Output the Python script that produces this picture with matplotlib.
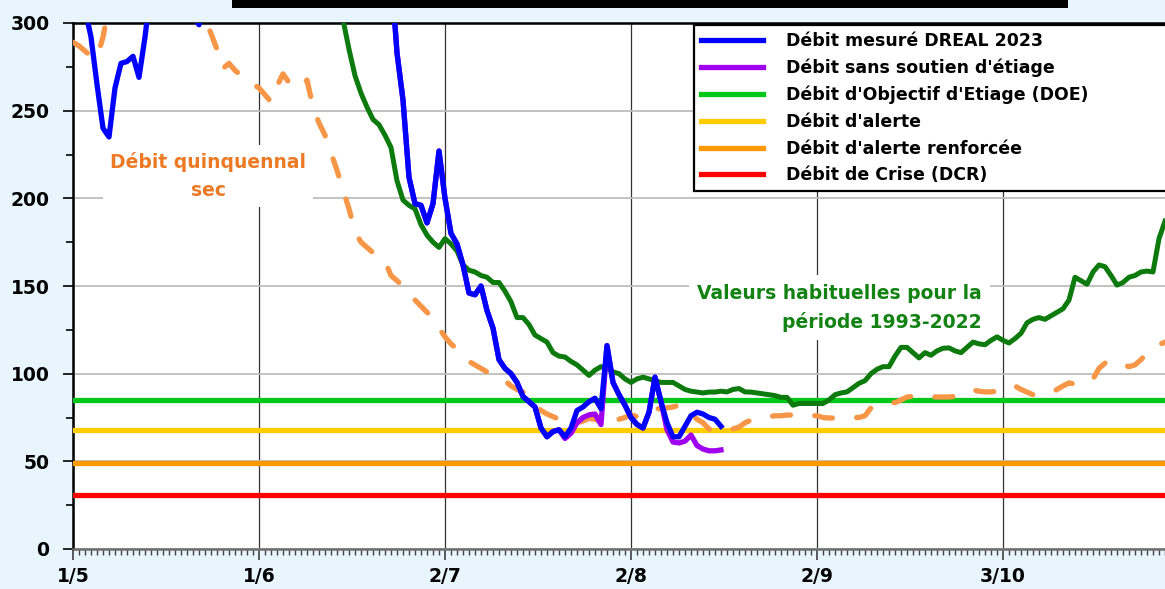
import numpy as np
from matplotlib import pyplot as plt
from matplotlib.patches import Rectangle
from matplotlib.lines import Line2D

# days counted from 1 May 2023
tick_days = [0, 31, 62, 93, 124, 155]
tick_labels = ['1/5', '1/6', '2/7', '2/8', '2/9', '3/10']

# Débit mesuré DREAL 2023 (days 0..108)
dreal_2023 = [360, 340, 308, 292, 265, 240, 235, 263, 277, 278,
              281, 269, 292, 320, 345, 340, 325, 318, 315, 310,
              305, 299, 310, 330, 360, 400, 420, 410, 390, 380,
              370, 365, 360, 350, 345, 340, 350, 380, 420, 450,
              430, 400, 380, 360, 350, 340, 335, 330, 340, 360,
              380, 400, 370, 330, 283, 256, 212, 197, 196, 186,
              197, 227, 200, 180, 174, 162, 146, 145, 150, 136,
              126, 108, 103, 100, 95, 87, 84, 81, 69, 64,
              67, 68, 64, 69, 79, 81, 84, 86, 80, 116,
              95, 88, 82, 75, 71, 69, 78, 98, 84, 72,
              64, 64, 70, 76, 78, 77, 75, 74, 70]

# Débit sans soutien d'étiage (days 53..108)
sans_soutien_start = 53
sans_soutien = [330, 283, 256, 212, 197, 196, 186,
                197, 227, 200, 180, 174, 162, 146, 145, 150, 136,
                126, 108, 103, 100, 95, 87, 84, 81, 69, 64,
                67, 68, 63, 66, 72, 75, 76.5, 77, 71, 116,
                95, 88, 82, 75, 71, 69, 78, 98, 84, 68,
                61, 60.5, 61.5, 65, 59, 57, 56, 56, 56.5]

# Valeurs habituelles 1993-2022 (days 44..182)
habituel_start = 44
habituel = [320, 302, 285, 270, 260, 252, 245, 242, 236, 229,
            210, 199, 196, 194, 185, 179, 175, 172, 177, 174,
            170, 162, 159, 158, 156, 155, 152, 152, 147, 141,
            132, 132, 128, 122, 120, 118, 112, 110, 109.5, 107,
            105, 102, 99, 102, 104, 103, 101, 100, 97, 95,
            97, 98, 97, 96, 95, 95, 95, 93, 91, 90,
            89.5, 89, 89.5, 89.5, 90, 89.6, 91, 91.5, 89.6, 89.5,
            89, 88.5, 88, 87.5, 86.5, 86.5, 82, 83, 83, 83,
            83, 83, 85, 88, 89, 89.6, 92, 94.5, 96, 100,
            102.5, 104, 104, 110, 115, 115, 112, 109, 112, 110.5,
            113, 114.5, 114.7, 113, 112, 115, 118, 117, 116.5, 119,
            121, 119, 117.5, 120, 123, 129, 131, 132, 131, 133,
            135, 137, 142, 155, 153, 151, 158, 162, 161, 156,
            150.5, 152, 155, 156, 158, 158.5, 158, 177, 187]

# Débit quinquennal sec (days 0..182)
quinquennal = [289, 287, 284, 281, 280, 292, 310, 315, 320, 322,
               325, 327, 328, 326, 324, 322, 320, 318, 315, 312,
               308, 305, 302, 294, 285, 274, 277, 273, 270, 266.5,
               265, 263, 259, 255, 264, 271, 266, 263, 263.5, 267.5,
               252, 243, 236, 226, 216, 205, 194, 181, 175, 172,
               169, 166, 164, 156, 153, 150, 146, 142, 138.5, 135,
               132, 126, 121, 117, 114, 110, 107, 105, 103, 101,
               99.5, 98, 96, 93, 91, 89.5, 86, 82, 79, 77,
               75.5, 74, 72.5, 72, 72, 73, 74.5, 74, 72, 72,
               73, 74, 75, 76.5, 75.5, 76, 78, 80, 80, 80.5,
               81, 82, 80, 77, 74, 72, 68.5, 67, 67, 67.5,
               68.5, 69.5, 72, 73.5, 74, 75, 75.5, 76, 76, 76.4,
               76.4, 76.4, 76, 76, 76, 75, 74.7, 74.7, 75, 75,
               75, 75, 76, 80.5, 82, 82.5, 83, 83.5, 85, 86.7,
               87, 86.7, 86.7, 86.7, 86.7, 86.7, 86.7, 87, 88, 89.5,
               90.7, 90, 89.6, 89.6, 90, 91.5, 93, 93, 91, 89.5,
               88, 88, 88.5, 89, 91, 93, 94.7, 94, 94, 95,
               97, 103, 106, 107.5, 107, 105, 104, 105, 108, 111.8,
               114, 116.5, 118]

# thresholds
seuil_names = ["Débit d'Objectif d'Etiage (DOE)", "Débit d'alerte",
               "Débit d'alerte renforcée", "Débit de Crise (DCR)"]
seuil_values = [85, 68, 49, 31]
seuil_colors = ['#00C81A', '#FFCC00', '#FF9900', '#FF0000']

plt.rcParams['font.family'] = ['DejaVu Sans']

fig = plt.figure(figsize=(11.65, 5.89), dpi=100)
fig.patch.set_facecolor('#E9F5FD')
ax = fig.add_axes([73 / 1165, 1 - 549 / 589, 1 - 73 / 1165, 526 / 589])

# black title bar cut at the top
fig.patches.append(Rectangle((232 / 1165, 1 - 8 / 589), (1068 - 232) / 1165, 8 / 589 + 0.01,
                             transform=fig.transFigure, facecolor='black', edgecolor='none'))

for v, c in zip(seuil_values, seuil_colors):
    ax.axhline(v, color=c, lw=3.8, zorder=3)

days_hab = np.arange(habituel_start, habituel_start + len(habituel))
ax.plot(days_hab, habituel, color='#0C7A0C', lw=3.6, zorder=4, solid_joinstyle='round')

ax.plot(np.arange(len(quinquennal)), quinquennal, color='#F79646', lw=3.8,
        linestyle=(0, (3.4, 4.6)), dash_capstyle='round', zorder=5)

days_ss = np.arange(sans_soutien_start, sans_soutien_start + len(sans_soutien))
ax.plot(days_ss, sans_soutien, color='#A000F0', lw=3.8, zorder=6, solid_joinstyle='round')
ax.plot(np.arange(len(dreal_2023)), dreal_2023, color='#0000FF', lw=3.8, zorder=7,
        solid_joinstyle='round')

ax.set_xlim(0, 182)
ax.set_ylim(0, 300)
ax.set_xticks(tick_days)
ax.set_xticklabels(tick_labels)
ax.set_xticks(np.arange(0, 183), minor=True)
ax.set_yticks(np.arange(0, 301, 50))
ax.set_yticks(np.arange(25, 300, 50), minor=True)

ax.tick_params(axis='y', which='major', length=7, width=1.2, labelsize=13.5, pad=10)
ax.tick_params(axis='y', which='minor', length=5, width=1.2)
ax.tick_params(axis='x', which='major', length=8, width=1.2, labelsize=13.5, pad=5,
               color='#404040')
ax.tick_params(axis='x', which='minor', length=4, width=1, color='#404040')
for lab in ax.get_xticklabels() + ax.get_yticklabels():
    lab.set_fontweight('bold')

ax.grid(axis='y', color='#BDBDBD', lw=1.3, zorder=1)
ax.grid(axis='x', color='#333333', lw=0.9, zorder=1)
ax.set_axisbelow(True)

ax.spines['left'].set_linewidth(1.8)
ax.spines['top'].set_linewidth(1.8)
ax.spines['bottom'].set_color('#707070')
ax.spines['bottom'].set_linewidth(1.8)
ax.spines['right'].set_visible(False)

ax.text(22.5, 212.5, 'Débit quinquennal\nsec', color='#EC7A24', fontsize=13.5,
        fontweight='bold', ha='center', va='center', linespacing=1.6, zorder=2,
        bbox=dict(facecolor='white', edgecolor='none', pad=5))
ax.text(151.5, 137.5, 'Valeurs habituelles pour la\npériode 1993-2022', color='#128212',
        fontsize=13.5, fontweight='bold', ha='right', va='center', linespacing=1.6,
        zorder=2, bbox=dict(facecolor='white', edgecolor='none', pad=6))

handles = [Line2D([], [], color='#0000FF', lw=3.8),
           Line2D([], [], color='#A000F0', lw=3.8)]
handles += [Line2D([], [], color=c, lw=3.8) for c in seuil_colors]
labels = ['Débit mesuré DREAL 2023', "Débit sans soutien d'étiage"] + seuil_names
leg = ax.legend(handles, labels, loc='upper left', bbox_to_anchor=(0.5687, 0, 0.6, 0.996),
                mode='expand', borderaxespad=0, fancybox=False, framealpha=1,
                edgecolor='black', handlelength=3.6, handletextpad=1.3,
                labelspacing=0.5, borderpad=0.4,
                prop={'weight': 'bold', 'size': 12.5})
leg.get_frame().set_linewidth(1.6)
leg.set_zorder(10)

plt.savefig('out.png', dpi=100, facecolor=fig.get_facecolor())
